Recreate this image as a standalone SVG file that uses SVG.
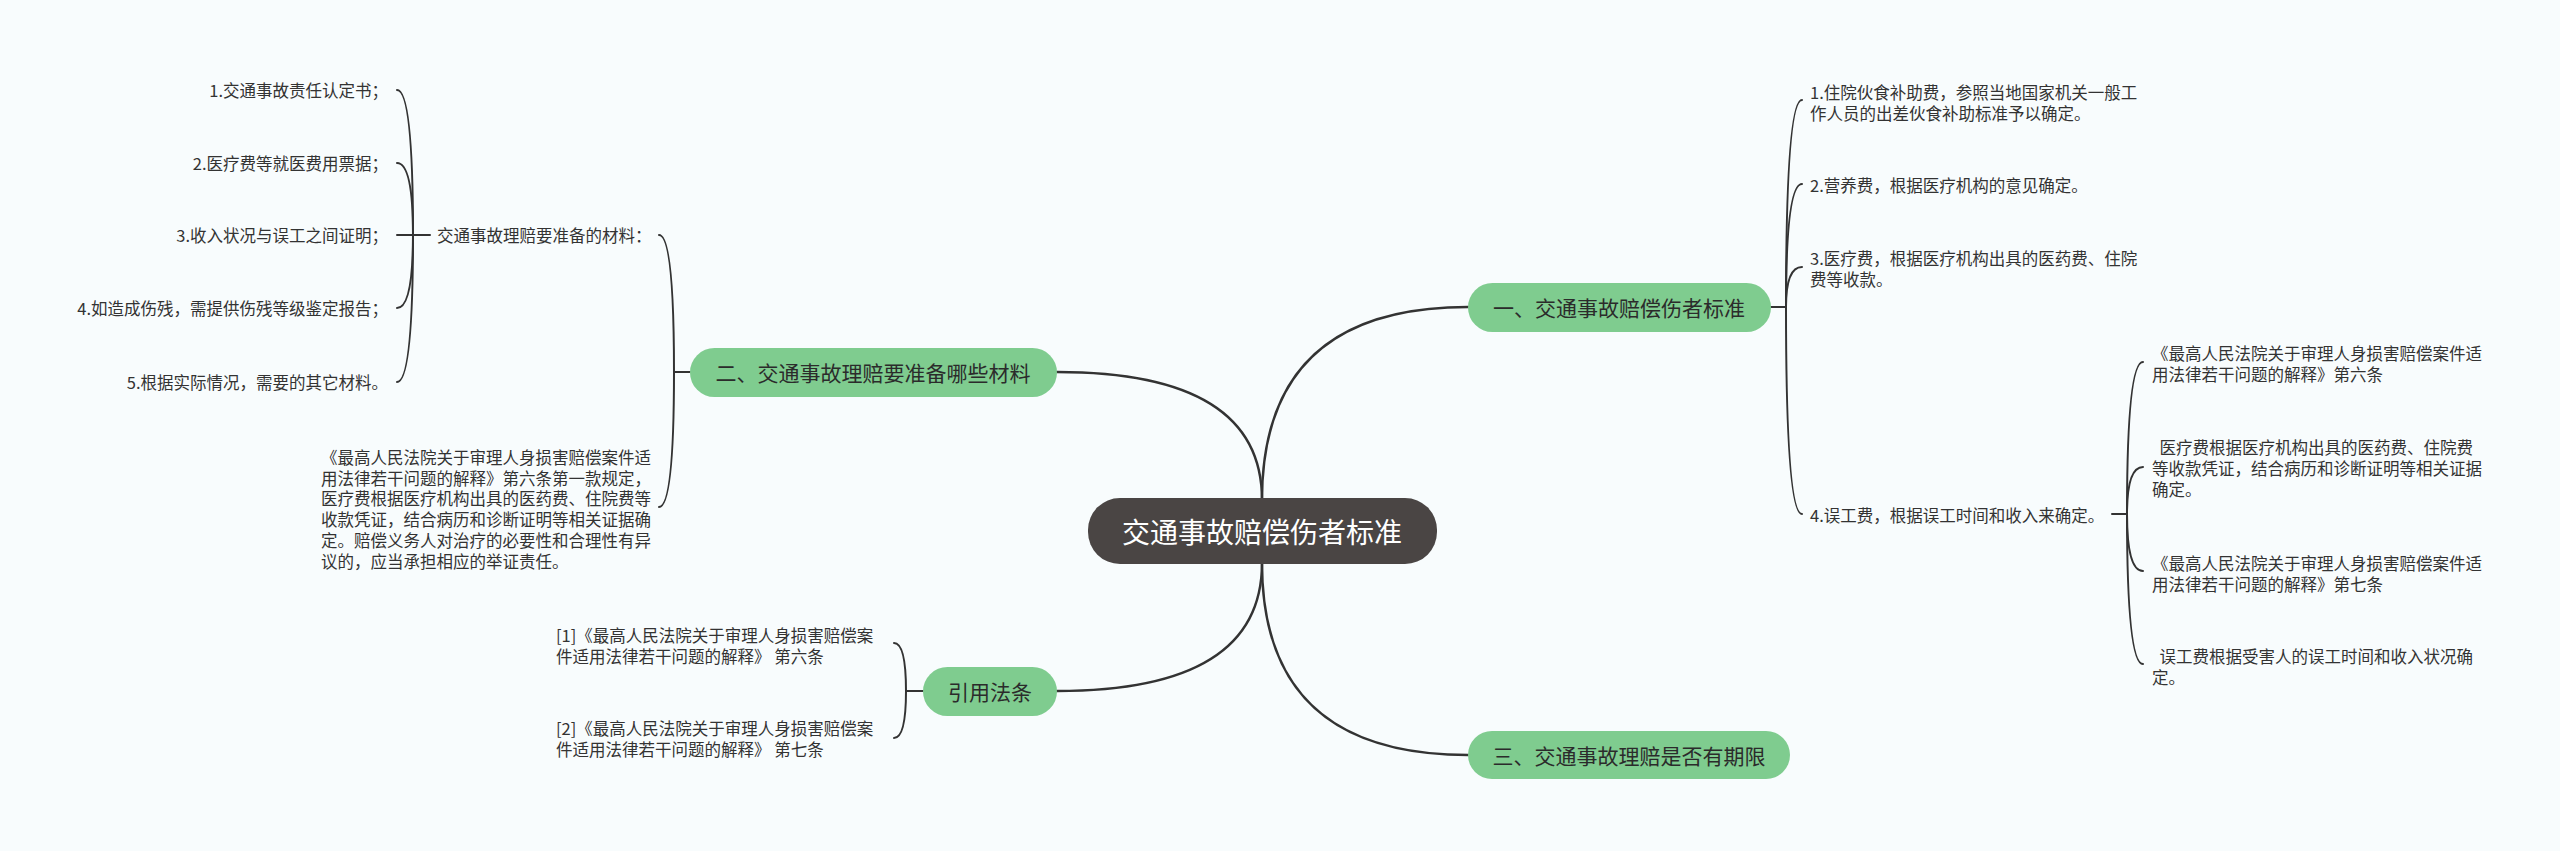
<svg xmlns="http://www.w3.org/2000/svg" width="2560" height="851" viewBox="0 0 2560 851">
<style>
.bg{fill:#f8fcfd}
.root{fill:#4a4544}
.main{fill:#7fcc8f}
.rt{font-family:"Noto Sans CJK SC","Noto Sans",sans-serif;font-size:28px;fill:#ffffff;text-anchor:middle;dominant-baseline:central}
.mt{font-family:"Noto Sans CJK SC","Noto Sans",sans-serif;font-size:21px;fill:#2b2b2b;text-anchor:middle;dominant-baseline:central}
.lt{font-family:"Noto Sans CJK SC","Noto Sans",sans-serif;font-size:16.5px;fill:#333333;dominant-baseline:central}
.end{text-anchor:end}
.c1{fill:none;stroke:#333333;stroke-width:2.4;stroke-linecap:round}
.c2{fill:none;stroke:#333333;stroke-width:2;stroke-linecap:round}
</style>
<rect class="bg" x="0" y="0" width="2560" height="851"/>
<g id="connectors">
<path class="c1" d="M1262,500 Q1262,307 1468,307"/>
<path class="c1" d="M1262,500 Q1262,372 1057,372"/>
<path class="c1" d="M1262,563 Q1262,691 1057,691"/>
<path class="c1" d="M1262,563 Q1262,755 1468,755"/>
<path class="c2" d="M1771,307 L1786,307"/>
<path class="c2" d="M1786,307 Q1786,100 1802,100"/>
<path class="c2" d="M1786,307 Q1786,184 1802,184"/>
<path class="c2" d="M1786,307 Q1786,267 1802,267"/>
<path class="c2" d="M1786,307 Q1786,514 1802,514"/>
<path class="c2" d="M2112,514 L2127,514"/>
<path class="c2" d="M2127,514 Q2127,362 2143,362"/>
<path class="c2" d="M2127,514 Q2127,467 2143,467"/>
<path class="c2" d="M2127,514 Q2127,571 2143,571"/>
<path class="c2" d="M2127,514 Q2127,664 2143,664"/>
<path class="c2" d="M690,372 L674,372"/>
<path class="c2" d="M674,372 Q674,235 659,235"/>
<path class="c2" d="M674,372 Q674,507 659,507"/>
<path class="c2" d="M430,235 L413,235"/>
<path class="c2" d="M413,235 Q413,90 397,90"/>
<path class="c2" d="M413,235 Q413,163 397,163"/>
<path class="c2" d="M413,235 L397,235"/>
<path class="c2" d="M413,235 Q413,308 397,308"/>
<path class="c2" d="M413,235 Q413,382 397,382"/>
<path class="c2" d="M923,691 L906,691"/>
<path class="c2" d="M906,691 Q906,643 894,643"/>
<path class="c2" d="M906,691 Q906,738 894,738"/>
</g>
<g id="root">
<rect class="root" x="1088" y="498" width="349" height="66" rx="32"/>
<text class="rt" x="1262" y="531">交通事故赔偿伤者标准</text>
</g>
<g id="n1">
<rect class="main" x="1468" y="283" width="303" height="49" rx="24.5"/>
<text class="mt" x="1619" y="307">一、交通事故赔偿伤者标准</text>
</g>
<g id="n1-1">
<text class="lt" x="1810" y="92">1.住院伙食补助费，参照当地国家机关一般工</text>
<text class="lt" x="1810" y="113">作人员的出差伙食补助标准予以确定。</text>
</g>
<g id="n1-2">
<text class="lt" x="1810" y="185">2.营养费，根据医疗机构的意见确定。</text>
</g>
<g id="n1-3">
<text class="lt" x="1810" y="258">3.医疗费，根据医疗机构出具的医药费、住院</text>
<text class="lt" x="1810" y="279">费等收款。</text>
</g>
<g id="n1-4">
<text class="lt" x="1810" y="515">4.误工费，根据误工时间和收入来确定。</text>
</g>
<g id="n1-4-1">
<text class="lt" x="2152" y="353">《最高人民法院关于审理人身损害赔偿案件适</text>
<text class="lt" x="2152" y="374">用法律若干问题的解释》第六条</text>
</g>
<g id="n1-4-2">
<text class="lt" x="2152" y="447" xml:space="preserve">  医疗费根据医疗机构出具的医药费、住院费</text>
<text class="lt" x="2152" y="468">等收款凭证，结合病历和诊断证明等相关证据</text>
<text class="lt" x="2152" y="489">确定。</text>
</g>
<g id="n1-4-3">
<text class="lt" x="2152" y="563">《最高人民法院关于审理人身损害赔偿案件适</text>
<text class="lt" x="2152" y="584">用法律若干问题的解释》第七条</text>
</g>
<g id="n1-4-4">
<text class="lt" x="2152" y="656" xml:space="preserve">  误工费根据受害人的误工时间和收入状况确</text>
<text class="lt" x="2152" y="677">定。</text>
</g>
<g id="n2">
<rect class="main" x="690" y="348" width="367" height="49" rx="24.5"/>
<text class="mt" x="873" y="372">二、交通事故理赔要准备哪些材料</text>
</g>
<g id="n2-1">
<text class="lt" x="437" y="235">交通事故理赔要准备的材料：</text>
</g>
<g id="n2-1-1"><text class="lt end" x="388" y="90">1.交通事故责任认定书；</text></g>
<g id="n2-1-2"><text class="lt end" x="388" y="163">2.医疗费等就医费用票据；</text></g>
<g id="n2-1-3"><text class="lt end" x="388" y="235">3.收入状况与误工之间证明；</text></g>
<g id="n2-1-4"><text class="lt end" x="388" y="308">4.如造成伤残，需提供伤残等级鉴定报告；</text></g>
<g id="n2-1-5"><text class="lt end" x="388" y="382">5.根据实际情况，需要的其它材料。</text></g>
<g id="n2-2">
<text class="lt" x="321" y="457">《最高人民法院关于审理人身损害赔偿案件适</text>
<text class="lt" x="321" y="478">用法律若干问题的解释》第六条第一款规定，</text>
<text class="lt" x="321" y="498">医疗费根据医疗机构出具的医药费、住院费等</text>
<text class="lt" x="321" y="519">收款凭证，结合病历和诊断证明等相关证据确</text>
<text class="lt" x="321" y="540">定。赔偿义务人对治疗的必要性和合理性有异</text>
<text class="lt" x="321" y="561">议的，应当承担相应的举证责任。</text>
</g>
<g id="n3">
<rect class="main" x="923" y="667" width="134" height="49" rx="24.5"/>
<text class="mt" x="990" y="691">引用法条</text>
</g>
<g id="n3-1">
<text class="lt" x="556" y="635">[1]《最高人民法院关于审理人身损害赔偿案</text>
<text class="lt" x="556" y="656">件适用法律若干问题的解释》 第六条</text>
</g>
<g id="n3-2">
<text class="lt" x="556" y="728">[2]《最高人民法院关于审理人身损害赔偿案</text>
<text class="lt" x="556" y="749">件适用法律若干问题的解释》 第七条</text>
</g>
<g id="n4">
<rect class="main" x="1468" y="731" width="322" height="48" rx="24"/>
<text class="mt" x="1629" y="755">三、交通事故理赔是否有期限</text>
</g>
</svg>
